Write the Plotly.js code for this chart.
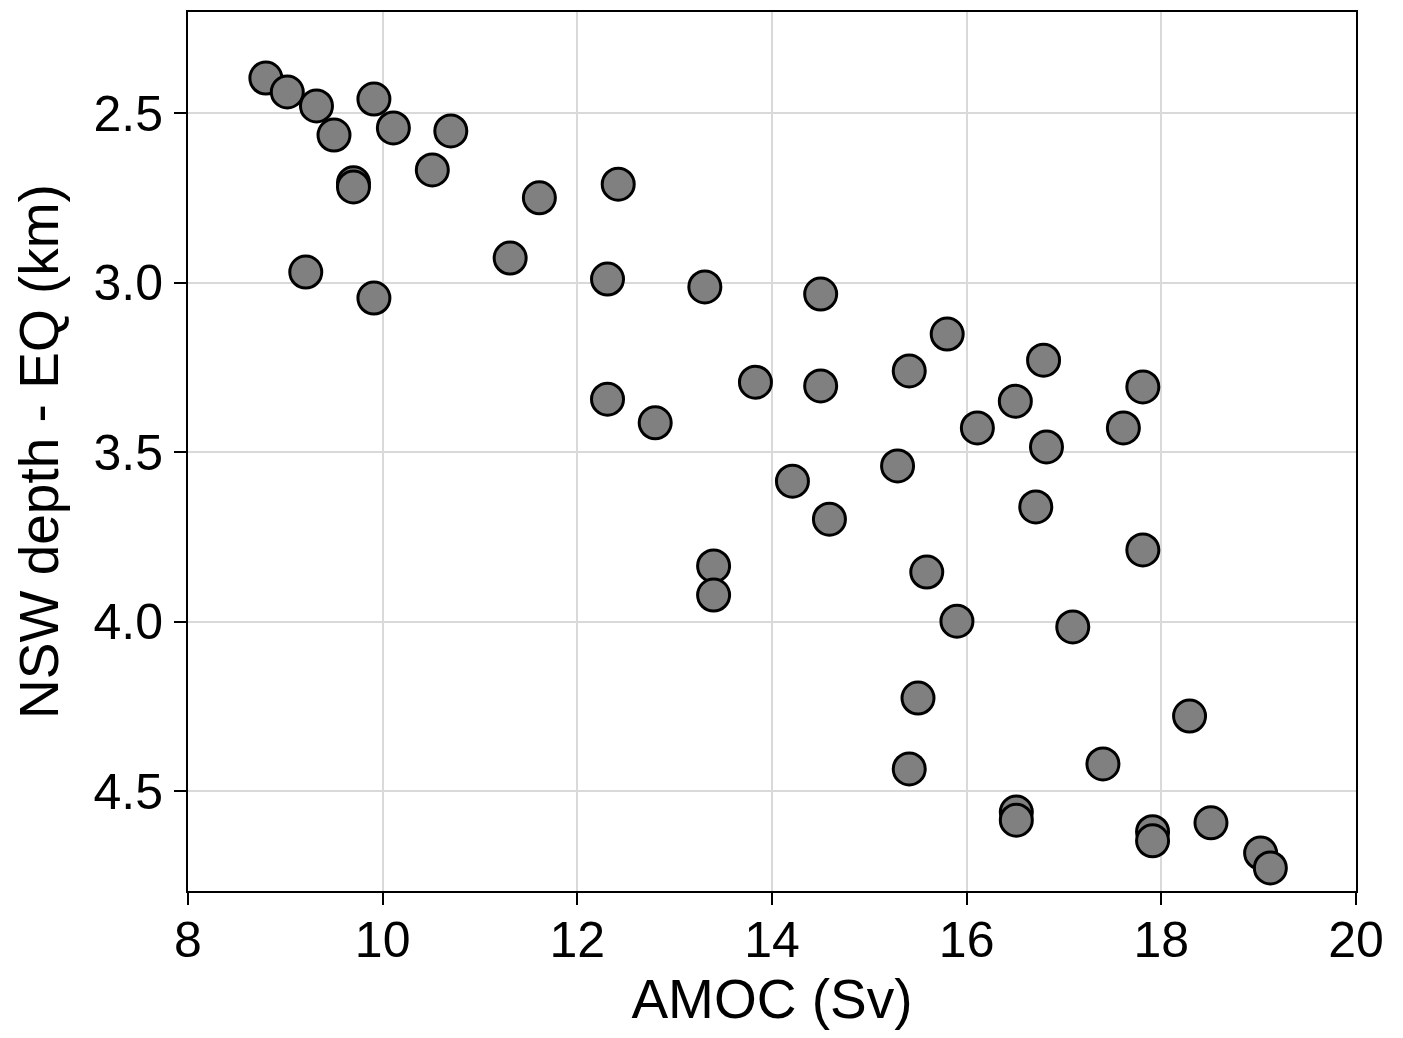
<!DOCTYPE html>
<html>
<head>
<meta charset="utf-8">
<script src="https://cdn.plot.ly/plotly-3.0.1.min.js"></script>
<style>
html,body{margin:0;padding:0;background:#fff;}
#chart{width:1403px;height:1038px;}
</style>
</head>
<body>
<div id="chart"></div>
<script>
const amoc = [8.80, 9.02, 9.32, 9.50, 9.91, 10.11, 10.70, 10.51, 9.70, 9.70,
  11.61, 12.42, 9.21, 9.91, 11.31, 12.31, 13.31, 14.50, 15.80, 16.79,
  13.83, 14.50, 15.41, 16.50, 17.81, 12.31, 12.80, 16.11, 17.61, 16.82,
  15.29, 14.21, 14.59, 16.71, 13.40, 13.40, 15.59, 17.81, 15.90, 17.09,
  15.50, 18.29, 15.41, 17.40, 16.51, 16.51, 17.91, 17.91, 18.51, 19.02, 19.12];
const nswDepth = [2.397, 2.438, 2.479, 2.565, 2.459, 2.544, 2.553, 2.668, 2.706, 2.718,
  2.750, 2.710, 2.969, 3.046, 2.928, 2.990, 3.013, 3.034, 3.152, 3.229,
  3.294, 3.305, 3.261, 3.350, 3.308, 3.344, 3.414, 3.429, 3.429, 3.485,
  3.541, 3.586, 3.698, 3.662, 3.836, 3.922, 3.854, 3.789, 3.999, 4.016,
  4.226, 4.279, 4.435, 4.420, 4.562, 4.586, 4.620, 4.647, 4.594, 4.683, 4.727];
const xTicks = [8, 10, 12, 14, 16, 18, 20];
const yTicks = [2.5, 3.0, 3.5, 4.0, 4.5];
const yTickLabels = ['2.5', '3.0', '3.5', '4.0', '4.5'];

const trace = {
  x: amoc, y: nswDepth, type: 'scatter', mode: 'markers',
  marker: {size: 32, color: '#808080', line: {color: '#000', width: 3}},
  hoverinfo: 'x+y'
};
const fam = 'Arial, "Liberation Sans", sans-serif';
const layout = {
  width: 1403, height: 1038,
  margin: {l: 188, r: 47, t: 12, b: 147},
  paper_bgcolor: '#fff', plot_bgcolor: '#fff',
  showlegend: false,
  font: {family: fam, color: '#000'},
  xaxis: {
    range: [8, 20], tickvals: xTicks, ticktext: xTicks.map(String),
    showgrid: true, gridcolor: '#d9d9d9', gridwidth: 2,
    showline: true, linecolor: '#000', linewidth: 2, mirror: true,
    ticks: 'outside', ticklen: 12, tickwidth: 2, tickcolor: '#000',
    ticklabelstandoff: -8,
    tickfont: {size: 50, family: fam, color: '#000'},
    zeroline: false,
    title: {text: 'AMOC (Sv)', font: {size: 55, family: fam, color: '#000'}, standoff: 11}
  },
  yaxis: {
    range: [4.795, 2.202], tickvals: yTicks, ticktext: yTickLabels,
    showgrid: true, gridcolor: '#d9d9d9', gridwidth: 2,
    showline: true, linecolor: '#000', linewidth: 2, mirror: true,
    ticks: 'outside', ticklen: 12, tickwidth: 2, tickcolor: '#000',
    ticklabelstandoff: 1,
    tickfont: {size: 50, family: fam, color: '#000'},
    zeroline: false,
    title: {text: 'NSW depth - EQ (km)', font: {size: 55, family: fam, color: '#000'}, standoff: 17}
  }
};
Plotly.newPlot('chart', [trace], layout, {displayModeBar: false, staticPlot: true});
</script>
</body>
</html>
